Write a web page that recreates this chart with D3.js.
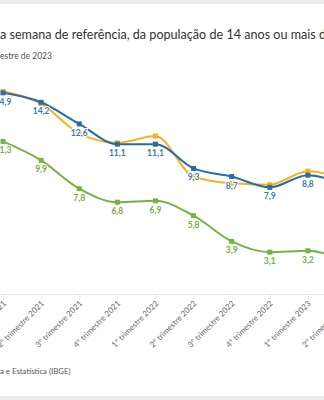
<!DOCTYPE html>
<html><head><meta charset="utf-8">
<script src="https://cdn.jsdelivr.net/npm/d3@7"></script>
<style>
html,body{margin:0;padding:0;background:#fff;overflow:hidden;}
svg{display:block;font-family:"Source Sans Pro","Lato","Open Sans",sans-serif;}
</style></head><body>
<svg id="c" width="324" height="400"></svg>
<script>
const categories = ["1º trimestre 2021","2º trimestre 2021","3º trimestre 2021","4º trimestre 2021","1º trimestre 2022","2º trimestre 2022","3º trimestre 2022","4º trimestre 2022","1º trimestre 2023","2º trimestre 2023"];
const blueValues   = [14.9, 14.2, 12.6, 11.1, 11.1, 9.3, 8.7, 7.9, 8.8, 8.0];
const yellowValues = [15.0, 14.1, 11.9, 11.2, 11.7, 8.7, 8.2, 8.1, 9.1, 8.5];
const greenValues  = [11.3, 9.9, 7.8, 6.8, 6.9, 5.8, 3.9, 3.1, 3.2, 2.4];
const titleText = "Taxa de desocupação, na semana de referência, da população de 14 anos ou mais de idade";
const titleHidden = "Taxa de desocupação, n";
const subtitleText = "1º trimestre de 2021 ao 2º trimestre de 2023";
const subtitleHidden = "1º trimestre de 2021 ao 2º trim";
const sourceText = "Fonte: Instituto Brasileiro de Geografia e Estatística (IBGE)";
const sourceHidden = "Fonte: Instituto Brasileiro de Geografi";

const svg = d3.select("#c");
const W = 324, H = 400;
const font = '"Source Sans Pro","Lato","Open Sans",sans-serif';

svg.append("rect").attr("x",0).attr("y",0).attr("width",W).attr("height",4).attr("fill","#ececec");
svg.append("rect").attr("x",0).attr("y",396).attr("width",W).attr("height",4).attr("fill","#ececec");

function measure(txt, size){
  const t = svg.append("text").attr("font-size",size).text(txt);
  const w = t.node().getComputedTextLength(); t.remove(); return w;
}
function croppedText(full, hidden, size, y, color){
  const off = measure(hidden, size);
  svg.append("text").attr("x",-off).attr("y",y).attr("font-size",size)
    .attr("fill",color).text(full);
}
croppedText(titleText, titleHidden, 12.6, 39, "#333");
croppedText(subtitleText, subtitleHidden, 8.5, 59, "#555");
croppedText(sourceText, sourceHidden, 7.8, 374, "#555");

const x = d3.scalePoint().domain(categories).range([3, 346]);
const y = d3.scaleLinear().domain([0, 16]).range([294, 78]);

const xAxis = d3.axisBottom(x).tickSize(5).tickSizeOuter(0);
svg.append("line").attr("x1",0).attr("x2",W).attr("y1",294.5).attr("y2",294.5).attr("stroke","#e6e6e6");
const gx = svg.append("g").attr("transform","translate(0,294)").call(xAxis);
gx.select(".domain").remove();
gx.selectAll(".tick line").attr("stroke","#e6e6e6");
gx.selectAll(".tick text").attr("font-size",8).attr("fill","#666").attr("font-family",font)
  .attr("text-anchor","end").attr("dy",0).attr("dx",0)
  .attr("transform","translate(3,10) rotate(-45)").attr("y",0);

const line = d3.line().x((d,i)=>x(categories[i])).y(d=>y(d)).curve(d3.curveMonotoneX);
const series = [
  {vals: yellowValues, color:"#f5b21e", labels:false},
  {vals: greenValues, color:"#77b244", labelColor:"#72ad45", labels:true},
  {vals: blueValues, color:"#2b6ca3", labelColor:"#3c7bb0", labels:true}
];
series.forEach(s=>{
  svg.append("path").datum(s.vals).attr("d",line).attr("fill","none")
    .attr("stroke",s.color).attr("stroke-width",2);
  svg.append("g").selectAll("rect").data(s.vals).join("rect")
    .attr("x",(d,i)=>x(categories[i])-2.5).attr("y",d=>y(d)-2.5)
    .attr("width",5).attr("height",5).attr("fill",s.color);
});
series.filter(s=>s.labels).forEach(s=>{
  svg.append("g").selectAll("text").data(s.vals).join("text")
    .attr("x",(d,i)=>x(categories[i])).attr("y",d=>y(d)+12)
    .attr("text-anchor","middle").attr("font-size",8.5).attr("font-weight",700)
    .attr("fill",s.labelColor).attr("stroke","#fff").attr("stroke-width",2)
    .attr("paint-order","stroke")
    .text(d=>d.toFixed(1).replace(".",","));
});
</script></body></html>
